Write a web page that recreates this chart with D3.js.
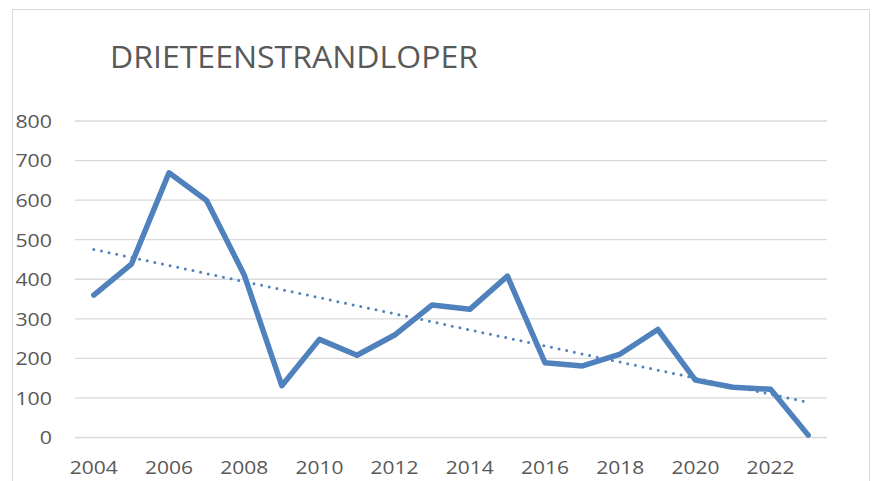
<!DOCTYPE html>
<html>
<head>
<meta charset="utf-8">
<script src="https://cdn.jsdelivr.net/npm/d3@7"></script>
<style>
  html, body { margin: 0; padding: 0; background: #fff; }
  svg { display: block; }
  text { font-family: "Open Sans", "Noto Sans", sans-serif; fill: #595959; }
</style>
</head>
<body>
<div id="chart"></div>
<script>
var years = [2004, 2005, 2006, 2007, 2008, 2009, 2010, 2011, 2012, 2013,
             2014, 2015, 2016, 2017, 2018, 2019, 2020, 2021, 2022, 2023];
var counts = [360, 438, 669, 599, 411, 131, 248, 208, 259, 335,
              324, 408, 189, 181, 211, 273, 145, 127, 122, 6];
var yTicks = [0, 100, 200, 300, 400, 500, 600, 700, 800];
var xTickYears = [2004, 2006, 2008, 2010, 2012, 2014, 2016, 2018, 2020, 2022];
var title = 'DRIETEENSTRANDLOPER';

var width = 878, height = 481;
var plot = {left: 75, right: 827, top: 121, bottom: 437.5};

var svg = d3.select('#chart').append('svg')
    .attr('width', width)
    .attr('height', height);

// chart frame
svg.append('rect')
    .attr('x', 12.5).attr('y', 9.5)
    .attr('width', 857).attr('height', 500)
    .attr('fill', '#fff')
    .attr('stroke', '#d9d9d9')
    .attr('stroke-width', 1);

var x = d3.scaleBand()
    .domain(years)
    .range([plot.left, plot.right]);

var y = d3.scaleLinear()
    .domain([0, 800])
    .range([plot.bottom, plot.top]);

function cx(yr) { return x(yr) + x.bandwidth() / 2; }

// gridlines
svg.append('g')
    .selectAll('line')
    .data(yTicks)
    .join('line')
    .attr('x1', plot.left).attr('x2', plot.right)
    .attr('y1', function(d) { return y(d); })
    .attr('y2', function(d) { return y(d); })
    .attr('stroke', '#d9d9d9')
    .attr('stroke-width', 1.3);

// y labels
svg.append('g')
    .selectAll('text')
    .data(yTicks)
    .join('text')
    .attr('x', 52)
    .attr('y', function(d) { return y(d); })
    .attr('dy', '0.36em')
    .attr('text-anchor', 'end')
    .attr('font-size', '19px')
    .attr('textLength', function(d) { return String(d).length * 12.2; })
    .attr('lengthAdjust', 'spacingAndGlyphs')
    .text(function(d) { return d; });

// x labels
svg.append('g')
    .selectAll('text')
    .data(xTickYears)
    .join('text')
    .attr('x', function(d) { return cx(d); })
    .attr('y', 474)
    .attr('text-anchor', 'middle')
    .attr('font-size', '19px')
    .attr('textLength', 48)
    .attr('lengthAdjust', 'spacingAndGlyphs')
    .text(function(d) { return d; });

// linear trend (least squares over the series)
var n = years.length;
var mx = d3.mean(years), my = d3.mean(counts);
var sxy = 0, sxx = 0;
for (var i = 0; i < n; i++) {
    sxy += (years[i] - mx) * (counts[i] - my);
    sxx += (years[i] - mx) * (years[i] - mx);
}
var slope = sxy / sxx;
var trend = [years[0], years[n - 1]].map(function(yr) {
    return {year: yr, value: my + slope * (yr - mx)};
});

var line = d3.line()
    .x(function(d) { return cx(d.year); })
    .y(function(d) { return y(d.value); });

var series = years.map(function(yr, i) { return {year: yr, value: counts[i]}; });

svg.append('path')
    .datum(series)
    .attr('d', line)
    .attr('fill', 'none')
    .attr('stroke', '#4f81bd')
    .attr('stroke-width', 5.5)
    .attr('stroke-linejoin', 'round')
    .attr('stroke-linecap', 'round');

svg.append('path')
    .datum(trend)
    .attr('d', line)
    .attr('fill', 'none')
    .attr('stroke', '#4f81bd')
    .attr('stroke-width', 3)
    .attr('stroke-linecap', 'round')
    .attr('stroke-dasharray', '0,7.8');

// title
svg.append('text')
    .attr('x', 110)
    .attr('y', 68)
    .attr('font-size', '31px')
    .attr('textLength', 368)
    .attr('lengthAdjust', 'spacingAndGlyphs')
    .text(title);
</script>
</body>
</html>
